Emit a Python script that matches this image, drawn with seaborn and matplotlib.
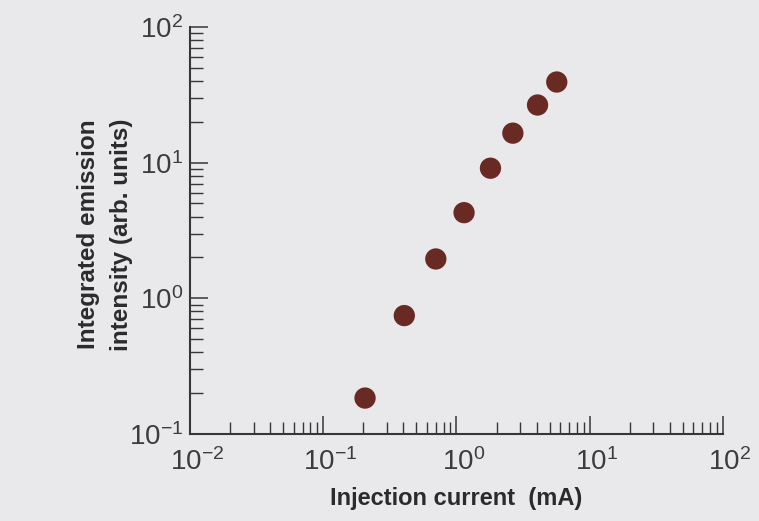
# Log-log plot: emission intensity vs injection current
import matplotlib
matplotlib.use("Agg")
import matplotlib.pyplot as plt
import matplotlib.transforms as mtransforms
from matplotlib.ticker import LogLocator, NullFormatter
import pandas as pd
import seaborn as sns

# values
current_mA = [0.206, 0.406, 0.70, 1.14, 1.80, 2.65, 4.06, 5.66]
intensity = [0.184, 0.746, 1.95, 4.28, 9.1, 16.5, 26.6, 39.3]

x_label = "Injection current  (mA)"
y_label = "Integrated emission\nintensity (arb. units)"

df = pd.DataFrame({"current": current_mA, "intensity": intensity})

sns.set_theme(style="ticks")
plt.rcParams["font.family"] = ["Liberation Sans Narrow", "DejaVu Sans Condensed",
                               "Liberation Sans", "DejaVu Sans"]
plt.rcParams["font.stretch"] = "condensed"
plt.rcParams["mathtext.fontset"] = "custom"
plt.rcParams["mathtext.rm"] = "Liberation Sans Narrow"
plt.rcParams["mathtext.it"] = "Liberation Sans Narrow"

paper = "#e9e8eb"
ink = "#363636"

fig = plt.figure(figsize=(7.59, 5.21), dpi=100, facecolor=paper)
ax = fig.add_axes([0.2503, 0.1670, 0.7022, 0.7812])
ax.set_facecolor(paper)

sns.scatterplot(data=df, x="current", y="intensity", ax=ax,
                s=235, color="#6a2a24", edgecolor="none", linewidth=0)

ax.set_xscale("log")
ax.set_yscale("log")
ax.set_xlim(1e-2, 1e2)
ax.set_ylim(1e-1, 1e2)

ax.xaxis.set_major_locator(LogLocator(base=10, numticks=10))
ax.yaxis.set_major_locator(LogLocator(base=10, numticks=10))
ax.xaxis.set_minor_locator(LogLocator(base=10, subs=range(2, 10), numticks=20))
ax.yaxis.set_minor_locator(LogLocator(base=10, subs=range(2, 10), numticks=20))
ax.xaxis.set_minor_formatter(NullFormatter())
ax.yaxis.set_minor_formatter(NullFormatter())

for side in ["top", "right"]:
    ax.spines[side].set_visible(False)
for side in ["left", "bottom"]:
    ax.spines[side].set_color(ink)
    ax.spines[side].set_linewidth(1.5)

ax.tick_params(which="major", direction="in", length=13, width=1.1,
               color=ink, labelsize=20, labelcolor="#3c3c3c")
ax.tick_params(which="minor", direction="in", length=9, width=1.0, color=ink)
ax.tick_params(axis="x", which="major", pad=10)
ax.tick_params(axis="y", which="major", pad=5)

# the "10" of each x label sits on its tick, exponent hangs to the right
shift = mtransforms.ScaledTranslation(5 / 72, 0, fig.dpi_scale_trans)
for lab in ax.get_xticklabels():
    lab.set_transform(lab.get_transform() + shift)

ax.set_xlabel(x_label, fontsize=17, fontweight="bold", color="#2b2b2b", labelpad=8)
ax.set_ylabel(y_label, fontsize=17.5, fontweight="bold", color="#2b2b2b",
              linespacing=1.55)
ax.yaxis.set_label_coords(-0.107, 0.49)

fig.savefig("out.png", dpi=100, facecolor=paper)
